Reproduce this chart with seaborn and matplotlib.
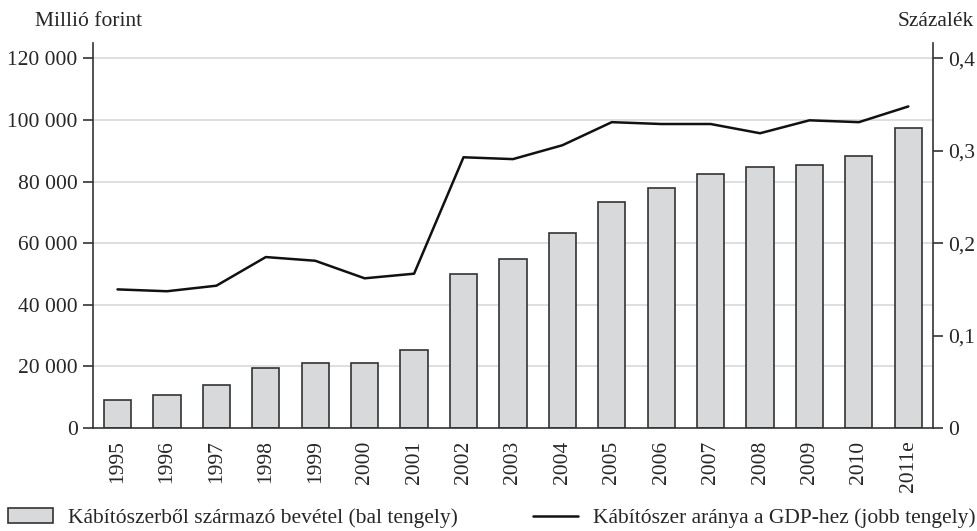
import matplotlib
matplotlib.use("Agg")
import matplotlib.pyplot as plt
import numpy as np
import pandas as pd
import seaborn as sns
from matplotlib.patches import Patch
from matplotlib.lines import Line2D
from matplotlib.ticker import FuncFormatter

# ─── Data ─────────────────────────────────────────────────────────────────────
years = ["1995", "1996", "1997", "1998", "1999", "2000", "2001", "2002", "2003",
         "2004", "2005", "2006", "2007", "2008", "2009", "2010", "2011e"]
revenue = [9000, 10800, 13800, 19600, 21200, 21200, 25300, 50100, 55000,
           63300, 73300, 77800, 82400, 84900, 85500, 88300, 97500]
gdp_share = [0.150, 0.148, 0.154, 0.185, 0.181, 0.162, 0.167, 0.293, 0.291,
             0.306, 0.331, 0.329, 0.329, 0.319, 0.333, 0.331, 0.348]

left_ticks = [0, 20000, 40000, 60000, 80000, 100000, 120000]
right_ticks = [0, 0.1, 0.2, 0.3, 0.4]

BAR_FILL = "#d8d9da"
EDGE = "#333333"
GRID = "#dcdcdc"
FONT = ["Liberation Serif", "DejaVu Serif"]
FS = 15.5

df = pd.DataFrame({"year": years, "revenue": revenue, "share": gdp_share})

sns.set_theme(style="white")
plt.rcParams["font.family"] = FONT

fig = plt.figure(figsize=(9.77, 5.31), dpi=100)
ax = fig.add_axes([0.095, 0.194, 0.86, 0.725])

sns.barplot(data=df, x="year", y="revenue", color=BAR_FILL, edgecolor=EDGE,
            linewidth=1.2, width=0.55, saturation=1, ax=ax, zorder=2)

ax.set_ylim(0, 125000)
ax.set_xlim(-0.5, len(years) - 0.5)
ax.set_yticks(left_ticks)
ax.yaxis.set_major_formatter(FuncFormatter(lambda v, p: f"{int(v):,}".replace(",", " ")))
for t in left_ticks[1:]:
    ax.axhline(t, color=GRID, lw=1.3, zorder=0)

# x ticks between categories, labels at centres
n = len(years)
ax.set_xticks(np.arange(n))
ax.set_xticklabels(years, rotation=90, fontsize=FS)
ax.set_xticks(np.arange(n + 1) - 0.5, minor=True)
ax.tick_params(axis="x", which="major", length=0, pad=9)
ax.tick_params(axis="x", which="minor", length=6, width=1.2, color=EDGE, direction="out")
ax.tick_params(axis="y", length=7, width=1.2, color=EDGE, labelsize=FS, pad=4)
ax.set_xlabel("")
ax.set_ylabel("")

for s in ["top", "right"]:
    ax.spines[s].set_visible(False)
for s in ["left", "bottom"]:
    ax.spines[s].set_color(EDGE)
    ax.spines[s].set_linewidth(1.2)

# right axis: share of GDP
ax2 = ax.twinx()
sns.lineplot(x=np.arange(n), y=gdp_share, color="#111111", lw=1.8, ax=ax2, zorder=3)
ax2.set_ylim(0, 0.4 * 125000 / 120000)
ax2.set_yticks(right_ticks)
ax2.yaxis.set_major_formatter(FuncFormatter(lambda v, p: "0" if v == 0 else f"{v:.1f}".replace(".", ",")))
ax2.tick_params(axis="y", length=7, width=1.2, color=EDGE, labelsize=FS, pad=4)
for s in ["top", "left", "bottom"]:
    ax2.spines[s].set_visible(False)
ax2.spines["right"].set_color(EDGE)
ax2.spines["right"].set_linewidth(1.2)
ax2.grid(False)

fig.text(0.036, 0.96, "Millió forint", fontsize=FS, ha="left", va="center")
fig.text(0.997, 0.96, "Százalék", fontsize=FS, ha="right", va="center")

# legend
fig.legend(handles=[Patch(facecolor=BAR_FILL, edgecolor=EDGE, lw=1.2)],
           labels=["Kábítószerből származó bevétel (bal tengely)"],
           loc="center left", bbox_to_anchor=(0.008, 0.024), frameon=False,
           fontsize=FS, handlelength=2.1, handleheight=0.65, handletextpad=0.7,
           borderaxespad=0, borderpad=0)
fig.legend(handles=[Line2D([], [], color="#111111", lw=1.8)],
           labels=["Kábítószer aránya a GDP-hez (jobb tengely)"],
           loc="center right", bbox_to_anchor=(0.999, 0.024), frameon=False,
           fontsize=FS, handlelength=2.1, handletextpad=0.7,
           borderaxespad=0, borderpad=0)

fig.savefig("out.png", dpi=100)
